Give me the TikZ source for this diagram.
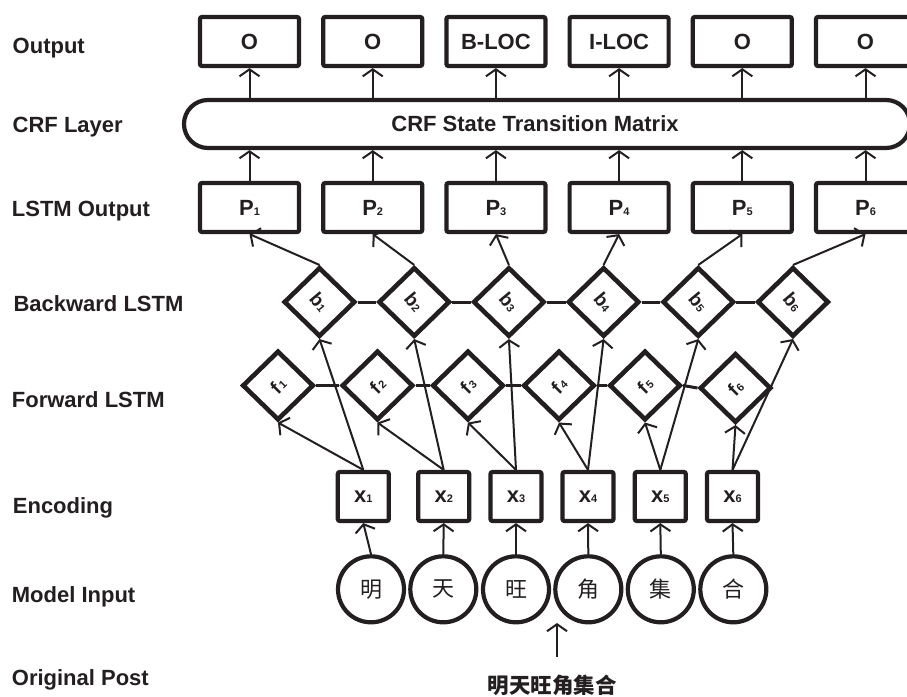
\documentclass[tikz,border=0pt]{standalone}
\usepackage{fontspec}
\setmainfont{Liberation Sans}
\newfontfamily\cjk{Noto Sans CJK SC}
\usetikzlibrary{shapes.geometric,arrows.meta}
\definecolor{ink}{RGB}{35,31,32}
\newcommand\sbs[1]{{\fontsize{11}{11}\selectfont #1}}
\begin{document}
\begin{tikzpicture}[x=1pt,y=-1pt,
  every node/.style={text=ink, font=\fontsize{22}{24}\selectfont\bfseries},
  box/.style={draw=ink, line width=4.2pt, rectangle, rounded corners=2pt, minimum width=99pt, minimum height=49pt, inner sep=0pt},
  xbox/.style={box, minimum width=51pt, minimum height=49pt},
  dia/.style={draw=ink, line width=4.6pt, diamond, minimum width=71.5pt, minimum height=69.5pt, inner sep=0pt, font=\fontsize{19}{19}\selectfont\bfseries},
  circ/.style={draw=ink, line width=4.2pt, circle, minimum size=66pt, inner sep=0pt, font=\cjk\fontsize{22}{22}\selectfont},
  arr/.style={draw=ink, line width=2pt, -{Straight Barb[length=7pt,width=20pt]}},
  link/.style={draw=ink, line width=3pt},
  lab/.style={anchor=base west, inner sep=0pt}
]
\clip (0,0) rectangle (907,696);
% left labels
\node[lab] (l1) at (12.5,53.3) {Output};
\node[lab] (l2) at (12.5,132.7) {CRF Layer};
\node[lab] (l3) at (11.7,216) {LSTM Output};
\node[lab] (l4) at (13.3,311) {Backward LSTM};
\node[lab] (l5) at (11.7,407.3) {Forward LSTM};
\node[lab] (l6) at (12.7,513.3) {Encoding};
\node[lab] (l7) at (11.7,602.7) {Model Input};
\node[lab] (l8) at (11.7,685) {Original Post};
% output boxes
\foreach \i/\x/\t in {1/249.5/O, 2/372.7/O, 3/495.9/B-LOC, 4/619.1/I-LOC, 5/742.3/O, 6/865.5/O}
  \node[box] (o\i) at (\x,41.5) {\t};
% CRF
\node[draw=ink, line width=4.2pt, rectangle, rounded corners=24pt, minimum width=726pt, minimum height=48pt, inner sep=0pt] (crf) at (547,124) {};
\node (crftext) at (535,124) {CRF State Transition Matrix};
% LSTM output
\foreach \i/\x in {1/249.5, 2/372.7, 3/495.9, 4/619.1, 5/742.3, 6/865.5}
  \node[box] (p\i) at (\x,207.5) {P\sbs{\i}};
% backward
\foreach \i/\x in {1/319.5, 2/414.2, 3/508.9, 4/603.6, 5/698.3, 6/793}
  \node[dia] (b\i) at (\x,302) {\rotatebox{-50}{b\kern0.5pt\sbs{\i}}};
% forward
\foreach \i/\x/\y in {1/278/385.5, 2/377.5/385.5, 3/468/385.5, 4/559/385.5, 5/645/385.5, 6/735.5/388}
  \node[dia] (f\i) at (\x,\y) {\rotatebox{45}{f\kern1pt\sbs{\i}}};
% encoding
\foreach \i/\x in {1/363.3, 2/443.7, 3/516, 4/588, 5/660.3, 6/732.5}
  \node[xbox] (x\i) at (\x,496.5) {x\sbs{\i}};
% model input
\foreach \i/\x/\c in {1/371/明, 2/443.3/天, 3/516/旺, 4/588.3/角, 5/660.8/集, 6/733.3/合}
  \node[circ] (c\i) at (\x,589.3) {\c};
% original post
\node[font=\cjk\bfseries\fontsize{21.5}{21.5}\selectfont] (post) at (552,685) {明天旺角集合};
\coordinate (pa) at (557,657);
\coordinate (pb) at (557,623);
\draw[arr] (pa) -- (pb);
% links
\foreach \i/\j in {1/2,2/3,3/4,4/5,5/6}{
  \draw[link] (b\i.east) -- (b\j.west);
  \draw[link] (f\i.east) -- (f\j.west);
}
% connectors
\foreach \i in {1,...,6}{
  \draw[arr] (c\i.north) -- (x\i.south);
  \draw[arr] (x\i.north) -- (f\i.south);
  \draw[arr] (x\i.north) -- (b\i.south);
  \draw[arr] (b\i.north) -- (p\i.south);
  \draw[arr] (p\i.north) -- (p\i.north |- crf.south);
  \draw[arr] (o\i.south |- crf.north) -- (o\i.south);
}
\end{tikzpicture}
\end{document}
